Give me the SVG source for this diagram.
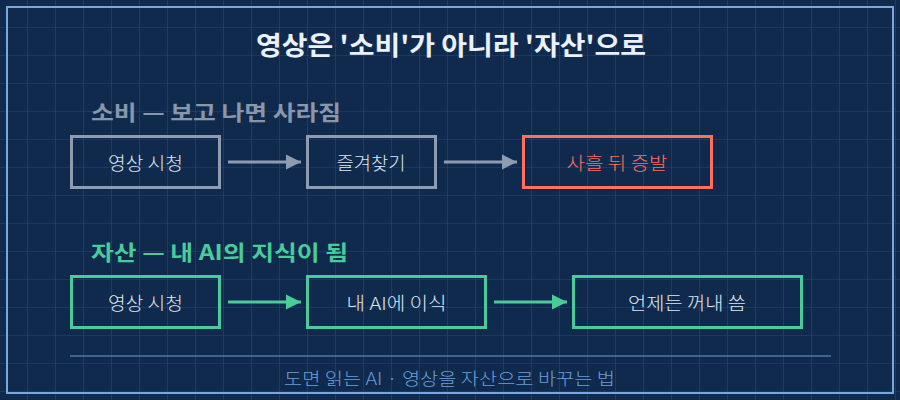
<svg xmlns="http://www.w3.org/2000/svg" width="900" height="400" viewBox="0 0 900 400">
  <defs>
    <pattern id="grid" x="0" y="0" width="28" height="28" patternUnits="userSpaceOnUse">
      <path d="M28 0 V28 M0 28 H28" fill="none" stroke="#24467a" stroke-width="1.2"/>
    </pattern>
    <marker id="ahGray" viewBox="0 0 10 10" refX="10" refY="5" markerWidth="5" markerHeight="5.3" orient="auto" markerUnits="strokeWidth">
      <path d="M0 0 L10 5 L0 10 Z" fill="#8e9bb0"/>
    </marker>
    <marker id="ahGreen" viewBox="0 0 10 10" refX="10" refY="5" markerWidth="5" markerHeight="5.3" orient="auto" markerUnits="strokeWidth">
      <path d="M0 0 L10 5 L0 10 Z" fill="#4ccb9a"/>
    </marker>
  </defs>
  <style>
    .title { font-family: "Noto Sans CJK KR", "Noto Sans", sans-serif; font-size: 26px; font-weight: bold; fill: #eaf1fa; }
    .sec { font-family: "Noto Sans CJK KR", "Noto Sans", sans-serif; font-size: 21px; font-weight: bold; }
    .lbl { font-family: "Noto Sans CJK KR", "Noto Sans", sans-serif; font-size: 18px; font-weight: 300; fill: #dfe7f1; text-anchor: middle; dominant-baseline: central; }
    .box { fill: none; stroke-width: 3; }
    .gray { stroke: #8e9bb0; }
    .red { stroke: #ff7060; }
    .green { stroke: #4ccb9a; }
    .conn { fill: none; stroke-width: 3; }
    .foot { font-family: "Noto Sans CJK KR", "Noto Sans", sans-serif; font-size: 17px; font-weight: 300; fill: #6a9fd8; text-anchor: middle; }
  </style>
  <rect x="0" y="0" width="900" height="400" fill="#0f2a4d"/>
  <rect x="0" y="0" width="900" height="400" fill="url(#grid)"/>
  <rect x="7" y="7" width="886" height="386" fill="none" stroke="#7aa8de" stroke-width="2"/>

  <text class="title" x="451" y="55" text-anchor="middle" textLength="390" lengthAdjust="spacingAndGlyphs">영상은 '소비'가 아니라 '자산'으로</text>

  <text class="sec" x="91" y="120" fill="#8a97ab" textLength="250" lengthAdjust="spacingAndGlyphs">소비 — 보고 나면 사라짐</text>
  <text class="sec" x="91" y="260" fill="#4ccb9a" textLength="257" lengthAdjust="spacingAndGlyphs">자산 — 내 AI의 지식이 됨</text>

  <g id="n1">
    <rect class="box gray" x="71.5" y="136.5" width="148" height="51"/>
    <text class="lbl" x="145.5" y="162" textLength="75" lengthAdjust="spacingAndGlyphs">영상 시청</text>
  </g>
  <g id="n2">
    <rect class="box gray" x="307.5" y="136.5" width="128" height="51"/>
    <text class="lbl" x="371" y="162" textLength="69" lengthAdjust="spacingAndGlyphs">즐겨찾기</text>
  </g>
  <g id="n3">
    <rect class="box red" x="523.5" y="136.5" width="188" height="51"/>
    <text class="lbl" x="617" y="162" style="fill:#ff7060" textLength="101" lengthAdjust="spacingAndGlyphs">사흘 뒤 증발</text>
  </g>
  <g id="n4">
    <rect class="box green" x="71.5" y="276.5" width="148" height="51"/>
    <text class="lbl" x="145.5" y="302" textLength="75" lengthAdjust="spacingAndGlyphs">영상 시청</text>
  </g>
  <g id="n5">
    <rect class="box green" x="307.5" y="276.5" width="178" height="51"/>
    <text class="lbl" x="396.5" y="302" textLength="100" lengthAdjust="spacingAndGlyphs">내 AI에 이식</text>
  </g>
  <g id="n6">
    <rect class="box green" x="573.5" y="276.5" width="228" height="51"/>
    <text class="lbl" x="687" y="302" textLength="118" lengthAdjust="spacingAndGlyphs">언제든 꺼내 씀</text>
  </g>

  <g id="connectors">
    <line class="conn gray" x1="228" y1="162" x2="301" y2="162" marker-end="url(#ahGray)"/>
    <line class="conn gray" x1="444" y1="162" x2="517" y2="162" marker-end="url(#ahGray)"/>
    <line class="conn green" x1="228" y1="302" x2="301" y2="302" marker-end="url(#ahGreen)"/>
    <line class="conn green" x1="494" y1="302" x2="567" y2="302" marker-end="url(#ahGreen)"/>
  </g>

  <line x1="70" y1="356" x2="831" y2="356" stroke="#6a9fd8" stroke-width="1"/>
  <text class="foot" x="449.5" y="385" textLength="331" lengthAdjust="spacingAndGlyphs">도면 읽는 AI · 영상을 자산으로 바꾸는 법</text>
</svg>
